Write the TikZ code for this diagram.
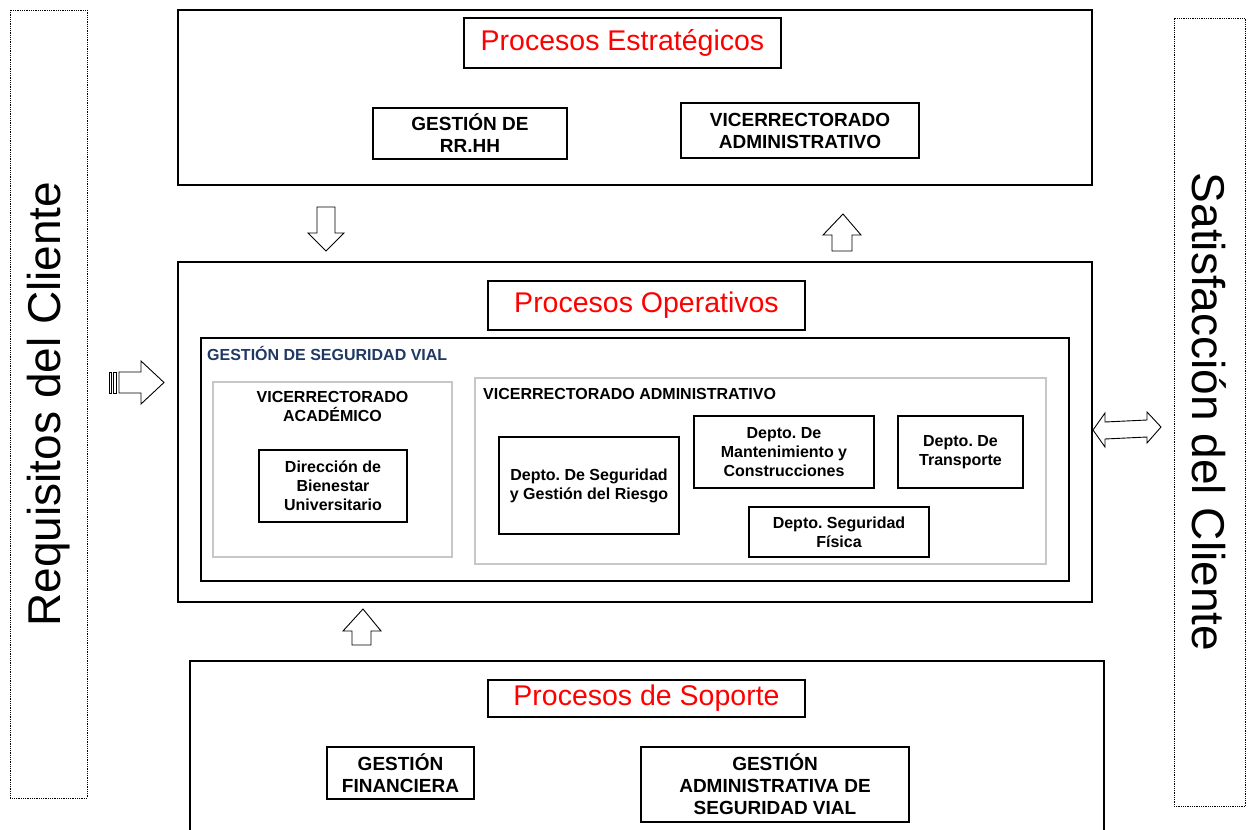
\documentclass[tikz,border=0pt]{standalone}
\usepackage{fontspec}
\setmainfont{Liberation Sans}
\usepackage{xcolor}
\usepackage{tikz}
\frenchspacing

\definecolor{navy}{RGB}{31,56,100}

\begin{document}
\begin{tikzpicture}[x=1pt,y=-1pt,
  frame/.style={draw, line width=1.2pt, inner sep=0pt},
  titlebox/.style={draw, line width=1.1pt, inner sep=0pt, text=red, font={\fontsize{28.5}{32}\selectfont}},
  bigbox/.style={draw, line width=1.1pt, inner sep=0pt, align=center, font={\fontsize{19}{22}\selectfont\bfseries}},
  smallbox/.style={draw, line width=1.1pt, inner sep=0pt, align=center, font={\fontsize{16}{19}\selectfont\bfseries}},
  smalltext/.style={inner sep=0pt, align=center, font={\fontsize{16}{19}\selectfont\bfseries}},
  grayframe/.style={draw=black!22, line width=1.2pt, inner sep=0pt},
  sidebox/.style={draw, densely dotted, line width=0.8pt, inner sep=0pt, font={\fontsize{46}{50}\selectfont}},
  blockarrow/.style={draw, fill=white, line width=0.9pt, line join=miter}]
\useasboundingbox (0,0) rectangle (1248,830);

% side boxes
\node[sidebox, rotate=90, minimum width=788pt, minimum height=77pt] (requisitos) at (48.5,404) {Requisitos del Cliente};
\node[sidebox, rotate=-90, minimum width=788pt, minimum height=71pt] (satisfaccion) at (1209.5,412) {Satisfacción del Cliente};

% procesos estrategicos
\node[frame, minimum width=914pt, minimum height=175pt] (estrat) at (635,97.5) {};
\node[titlebox, minimum width=317pt, minimum height=50pt] (estrattitle) at (622.5,43) {Procesos Estratégicos};
\node[bigbox, minimum width=194pt, minimum height=51pt] (rrhh) at (470,133.5) {GESTIÓN DE\\RR.HH};
\node[bigbox, minimum width=238pt, minimum height=55pt] (vradmtop) at (800,130.5) {VICERRECTORADO\\ADMINISTRATIVO};

% procesos operativos
\node[frame, minimum width=914pt, minimum height=340pt] (operat) at (635,432) {};
\node[titlebox, minimum width=317pt, minimum height=49pt] (operattitle) at (646.5,305.5) {Procesos Operativos};
\node[frame, line width=1.1pt, minimum width=868pt, minimum height=243pt] (gsv) at (635,459.5) {};
\node[inner sep=0pt, anchor=base west, text=navy, font={\fontsize{16}{19}\selectfont\bfseries}] (gsvtitle) at (207,360) {GESTIÓN DE SEGURIDAD VIAL};

\node[grayframe, minimum width=239pt, minimum height=175pt] (vracad) at (332.5,469.5) {};
\node[smalltext] (vracadtitle) at (332.5,406.5) {VICERRECTORADO\\ACADÉMICO};
\node[smallbox, minimum width=148pt, minimum height=72pt] (bienestar) at (333,486) {Dirección de\\Bienestar\\Universitario};

\node[grayframe, minimum width=571pt, minimum height=186pt] (vradm) at (760.5,471) {};
\node[smalltext, anchor=base west] (vradmtitle) at (483,399) {VICERRECTORADO ADMINISTRATIVO};
\node[smallbox, minimum width=180pt, minimum height=97pt] (riesgo) at (589,485.5) {Depto. De Seguridad\\y Gestión del Riesgo};
\node[smallbox, minimum width=180pt, minimum height=72pt] (mantenimiento) at (784,452) {Depto. De\\Mantenimiento y\\Construcciones};
\node[smallbox, minimum width=125pt, minimum height=72pt] (transporte) at (960.5,452) {Depto. De\\Transporte};
\node[smallbox, minimum width=180pt, minimum height=50pt] (fisica) at (839,532) {Depto. Seguridad\\Física};

% procesos de soporte
\node[frame, minimum width=914pt, minimum height=189pt] (soporte) at (647,755.5) {};
\node[titlebox, minimum width=317pt, minimum height=37pt] (soportetitle) at (646.5,698.5) {Procesos de Soporte};
\node[bigbox, minimum width=147pt, minimum height=52pt] (financiera) at (400.5,773) {GESTIÓN\\FINANCIERA};
\node[bigbox, minimum width=268pt, minimum height=75pt] (gasv) at (775,784.5) {GESTIÓN\\ADMINISTRATIVA DE\\SEGURIDAD VIAL};

% block arrows
\draw[blockarrow] (317,207) -- (335,207) -- (335,233) -- (344,233) -- (326,251) -- (308,233) -- (317,233) -- cycle;
\draw[blockarrow] (832,251) -- (852,251) -- (852,235) -- (861,235) -- (843,214) -- (823,235) -- (832,235) -- cycle;
\draw[blockarrow] (352,645) -- (371,645) -- (371,631) -- (381,631) -- (363,609) -- (343,631) -- (352,631) -- cycle;
\draw[blockarrow] (119,372) -- (141,372) -- (141,361) -- (164,382.5) -- (141,404) -- (141,393) -- (119,393) -- cycle;
\draw[blockarrow, line width=0.6pt] (109,372) rectangle (111,393);
\draw[blockarrow, line width=0.6pt] (113,372) rectangle (116,393);
\draw[blockarrow] (1093,430) -- (1105,413) -- (1105,422) -- (1147,420) -- (1147,412) -- (1161,427) -- (1147,443) -- (1147,437) -- (1105,439) -- (1105,447) -- cycle;

\end{tikzpicture}
\end{document}
